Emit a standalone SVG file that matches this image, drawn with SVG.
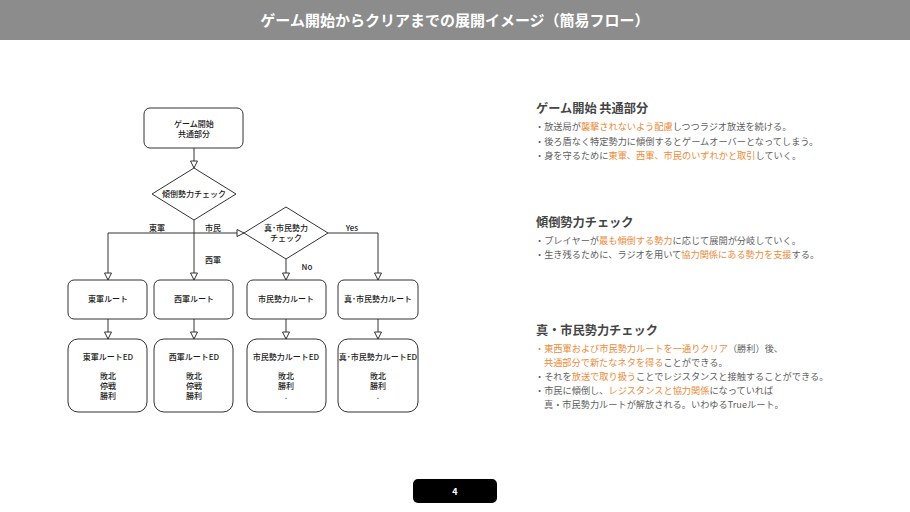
<svg xmlns="http://www.w3.org/2000/svg" width="910" height="512" viewBox="0 0 910 512">
<style>
.bg{fill:#ffffff}
.hdr{fill:#8c8c8c}
.title{font-family:"Noto Sans CJK JP","Noto Sans",sans-serif;font-size:15px;font-weight:700;fill:#ffffff}
.box{fill:#ffffff;stroke:#333333;stroke-width:1}
.nt{font-family:"Noto Sans CJK JP","Liberation Sans",sans-serif;font-size:8px;font-weight:500;fill:#1a1a1a;text-anchor:middle}
.el{font-family:"Noto Sans CJK JP","Liberation Sans",sans-serif;font-size:8px;font-weight:500;fill:#1a1a1a;text-anchor:middle}
.conn path{fill:none;stroke:#333333;stroke-width:1}
.h{font-family:"Noto Sans CJK JP","Noto Sans",sans-serif;font-size:12.2px;font-weight:700;fill:#454545}
.b{font-family:"Noto Sans CJK JP","Noto Sans",sans-serif;font-size:9.2px;fill:#5e5e5e}
.o{fill:#ec8b3a}
.pg{fill:#000000}
.pgt{font-family:"Noto Sans CJK JP","Liberation Sans",sans-serif;font-size:9px;font-weight:700;fill:#ffffff;text-anchor:middle}
</style>
<defs>
<marker id="arr" markerUnits="userSpaceOnUse" markerWidth="9" markerHeight="9" refX="7" refY="3.5" orient="auto" viewBox="-1 -1 9 9">
<path d="M0,0 L7,3.5 L0,7 Z" fill="#ffffff" stroke="#333333" stroke-width="1"/>
</marker>
</defs>
<rect class="bg" x="0" y="0" width="910" height="512"/>
<g id="header">
<rect class="hdr" x="0" y="0" width="910" height="40"/>
<text class="title" x="455" y="25.5" text-anchor="middle">ゲーム開始からクリアまでの展開イメージ（簡易フロー）</text>
</g>

<g id="connectors" class="conn">
<path d="M194,148 V168" marker-end="url(#arr)"/>
<path d="M194,220 V280" marker-end="url(#arr)"/>
<path d="M194,233 H108 V280" marker-end="url(#arr)"/>
<path d="M194,233 H244" marker-end="url(#arr)"/>
<path d="M328,233 H378 V280" marker-end="url(#arr)"/>
<path d="M286,259 V280" marker-end="url(#arr)"/>
<path d="M108,319 V339" marker-end="url(#arr)"/>
<path d="M194,319 V339" marker-end="url(#arr)"/>
<path d="M286,319 V339" marker-end="url(#arr)"/>
<path d="M378,319 V339" marker-end="url(#arr)"/>
<text class="el" x="157" y="231">東軍</text>
<text class="el" x="213" y="231">市民</text>
<text class="el" x="213" y="263">西軍</text>
<text class="el" x="352" y="231">Yes</text>
<text class="el" x="307" y="270">No</text>
</g>

<g id="start">
<rect class="box" x="144" y="108" width="99" height="40" rx="6"/>
<text class="nt" x="194" y="127">ゲーム開始</text>
<text class="nt" x="194" y="137">共通部分</text>
</g>
<g id="check1">
<polygon class="box" points="194,168 236,194 194,220 152,194"/>
<text class="nt" x="194" y="197">傾倒勢力チェック</text>
</g>
<g id="check2">
<polygon class="box" points="286,207 328,233 286,259 244,233"/>
<text class="nt" x="286" y="231">真･市民勢力</text>
<text class="nt" x="286" y="240.5">チェック</text>
</g>

<g id="route-east">
<rect class="box" x="68" y="280" width="79" height="39" rx="6"/>
<text class="nt" x="108" y="302">東軍ルート</text>
</g>
<g id="route-west">
<rect class="box" x="154" y="280" width="79" height="39" rx="6"/>
<text class="nt" x="194" y="302">西軍ルート</text>
</g>
<g id="route-citizen">
<rect class="box" x="247" y="280" width="79" height="39" rx="6"/>
<text class="nt" x="286" y="302">市民勢力ルート</text>
</g>
<g id="route-true">
<rect class="box" x="338" y="280" width="80" height="39" rx="6"/>
<text class="nt" x="378" y="302">真･市民勢力ルート</text>
</g>

<g id="ed-east">
<rect class="box" x="68" y="339" width="79" height="73" rx="10"/>
<text class="nt" x="108" y="360">東軍ルートED</text>
<text class="nt" x="108" y="379">敗北</text>
<text class="nt" x="108" y="389">停戦</text>
<text class="nt" x="108" y="399">勝利</text>
</g>
<g id="ed-west">
<rect class="box" x="154" y="339" width="79" height="73" rx="10"/>
<text class="nt" x="194" y="360">西軍ルートED</text>
<text class="nt" x="194" y="379">敗北</text>
<text class="nt" x="194" y="389">停戦</text>
<text class="nt" x="194" y="399">勝利</text>
</g>
<g id="ed-citizen">
<rect class="box" x="247" y="339" width="79" height="73" rx="10"/>
<text class="nt" x="286" y="360">市民勢力ルートED</text>
<text class="nt" x="286" y="379">敗北</text>
<text class="nt" x="286" y="389">勝利</text>
<text class="nt" x="286" y="399">.</text>
</g>
<g id="ed-true">
<rect class="box" x="338" y="339" width="80" height="73" rx="10"/>
<text class="nt" x="378" y="360">真･市民勢力ルートED</text>
<text class="nt" x="378" y="379">敗北</text>
<text class="nt" x="378" y="389">勝利</text>
<text class="nt" x="378" y="399">.</text>
</g>

<g id="notes">
<text class="h" x="536" y="113">ゲーム開始 共通部分</text>
<text class="b" x="535" y="130">・放送局が<tspan class="o">襲撃されないよう配慮</tspan>しつつラジオ放送を続ける。</text>
<text class="b" x="535" y="144.5">・後ろ盾なく特定勢力に傾倒するとゲームオーバーとなってしまう。</text>
<text class="b" x="535" y="158.5">・身を守るために<tspan class="o">東軍、西軍、市民のいずれかと取引</tspan>していく。</text>

<text class="h" x="536" y="227">傾倒勢力チェック</text>
<text class="b" x="535" y="244">・プレイヤーが<tspan class="o">最も傾倒する勢力</tspan>に応じて展開が分岐していく。</text>
<text class="b" x="535" y="258">・生き残るために、ラジオを用いて<tspan class="o">協力関係にある勢力を支援</tspan>する。</text>

<text class="h" x="536" y="334.5">真・市民勢力チェック</text>
<text class="b" x="535" y="351.5"><tspan class="o">・東西軍および市民勢力ルートを一通りクリア</tspan>（勝利）後、</text>
<text class="b" x="544" y="365.5"><tspan class="o">共通部分で新たなネタを得る</tspan>ことができる。</text>
<text class="b" x="535" y="379.5">・それを<tspan class="o">放送で取り扱う</tspan>ことでレジスタンスと接触することができる。</text>
<text class="b" x="535" y="394">・市民に傾倒し、<tspan class="o">レジスタンスと協力関係</tspan>になっていれば</text>
<text class="b" x="544" y="408">真・市民勢力ルートが解放される。いわゆるTrueルート。</text>
</g>

<g id="page">
<rect class="pg" x="413" y="479" width="84" height="24" rx="5"/>
<text class="pgt" x="455" y="494.5">4</text>
</g>
</svg>
